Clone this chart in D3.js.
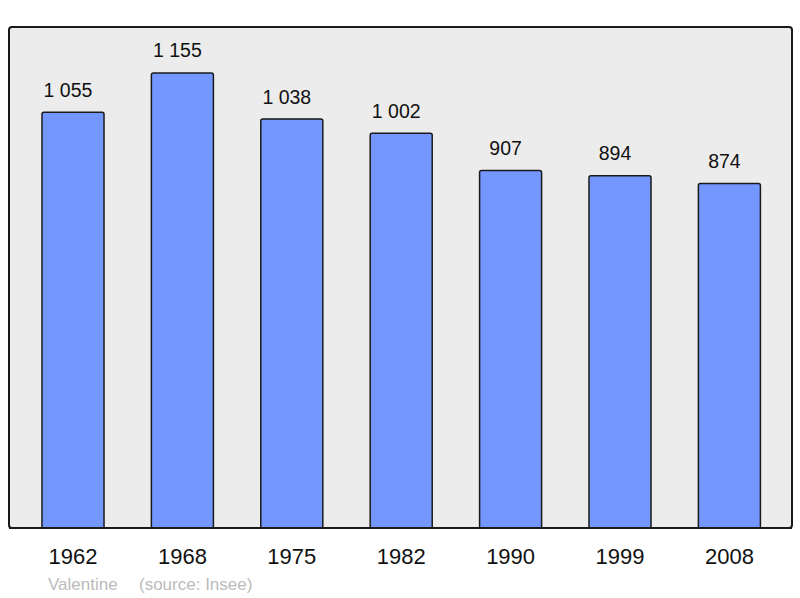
<!DOCTYPE html>
<html><head><meta charset="utf-8">
<script src="https://cdn.jsdelivr.net/npm/d3@7"></script>
<style>body{margin:0;background:#fff}svg{display:block}</style>
</head><body>
<script>
const years = ["1962","1968","1975","1982","1990","1999","2008"];
const population = [1055,1155,1038,1002,907,894,874];
const valueLabels = ["1 055","1 155","1 038","1 002","907","894","874"];
const footerName = "Valentine";
const footerSource = "(source: Insee)";

const W = 800, H = 598;
const svg = d3.select("body").append("svg").attr("width", W).attr("height", H);

const panel = {x0: 9, y0: 27, x1: 792, y1: 528};
const x = d3.scaleBand().domain(years).range([18.3, 784.1]).paddingInner(0.433).paddingOuter(0.2165);
const y = d3.scaleLinear().domain([0, 1271.5]).range([panel.y1, panel.y0]);

svg.append("rect").attr("x", panel.x0).attr("y", panel.y0)
  .attr("width", panel.x1 - panel.x0).attr("height", panel.y1 - panel.y0)
  .attr("rx", 3).attr("fill", "#ececec").attr("stroke", "#1a1a1a").attr("stroke-width", 2);

const data = years.map((yr, i) => ({yr, v: population[i], lab: valueLabels[i]}));

svg.selectAll("path.bar").data(data).enter().append("path").attr("class","bar")
  .attr("d", d => {
    const x0 = x(d.yr), x1 = x0 + x.bandwidth(), t = y(d.v), b = y(0), r = 2;
    return `M${x0},${b}V${t+r}Q${x0},${t} ${x0+r},${t}H${x1-r}Q${x1},${t} ${x1},${t+r}V${b}`;
  })
  .attr("fill", "#7396ff").attr("stroke", "#1a1a1a").attr("stroke-width", 1.5);

svg.append("line").attr("x1", panel.x0).attr("x2", panel.x1).attr("y1", panel.y1).attr("y2", panel.y1)
  .attr("stroke", "#1a1a1a").attr("stroke-width", 2);

svg.selectAll("text.val").data(data).enter().append("text").attr("class","val")
  .attr("x", d => x(d.yr) + x.bandwidth()/2 - 5).attr("y", d => y(d.v) - 15.5)
  .attr("text-anchor", "middle").attr("font-family", "Liberation Sans, Arial, sans-serif")
  .attr("font-size", 19.5).attr("fill", "#111").text(d => d.lab);

const xAxis = svg.append("g").attr("transform", `translate(0,${panel.y1})`)
  .call(d3.axisBottom(x).tickSize(0).tickPadding(0));
xAxis.select(".domain").remove();
xAxis.selectAll("text").attr("y", 36).attr("dy", null)
  .attr("font-family", "Liberation Sans, Arial, sans-serif").attr("font-size", 22).attr("fill", "#111");

svg.append("text").attr("x", 48).attr("y", 590).attr("font-family", "Liberation Sans, Arial, sans-serif")
  .attr("font-size", 17).attr("fill", "#bbbbbb").text(footerName);
svg.append("text").attr("x", 139).attr("y", 590).attr("font-family", "Liberation Sans, Arial, sans-serif")
  .attr("font-size", 17).attr("fill", "#bbbbbb").text(footerSource);
</script>
</body></html>
